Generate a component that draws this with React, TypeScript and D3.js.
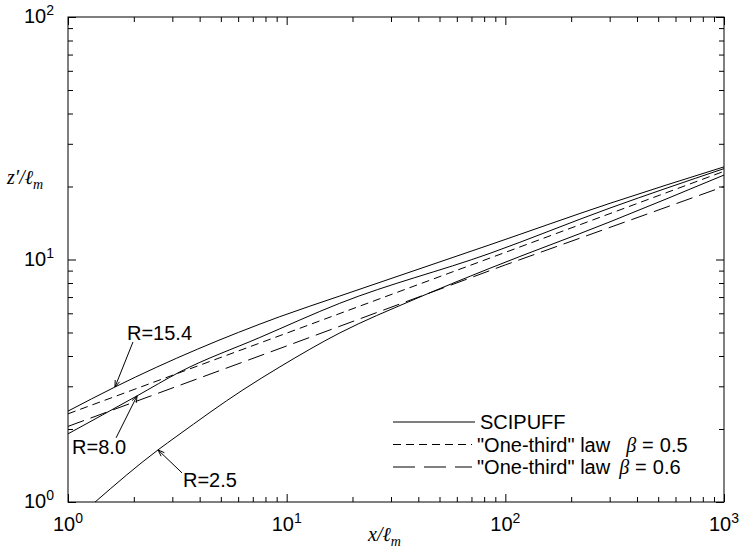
import React, { useRef, useEffect } from 'react';
import * as d3 from 'd3';

// SCIPUFF curves
const xR154 = [1, 1.64, 9.3, 17.5, 85, 301, 1000];
const yR154 = [2.37, 2.98, 5.81, 7.07, 11.5, 17.05, 24.1];
const xR80 = [1, 2.07, 3.25, 7.54, 17.5, 85, 301, 1000];
const yR80 = [1.91, 2.74, 3.44, 4.77, 6.6, 10.6, 16.3, 23.7];
const xR25 = [1.33, 2.58, 3.15, 6.31, 9.32, 17.5, 37.8, 85, 301, 1000];
const yR25 = [1.0, 1.64, 1.87, 2.9, 3.61, 4.98, 6.81, 9.2, 14.3, 22.3];

// "One-third" law lines
const xLaw = [1, 10, 100, 1000];
const yBeta05 = [2.31, 4.97, 10.7, 23.1];
const yBeta06 = [2.05, 4.4, 9.5, 20.0];

const xMajor = [1, 10, 100, 1000];
const yMajor = [1, 10, 100];
const xLabels = ['0', '1', '2', '3'];
const yLabels = ['0', '1', '2'];

const legendLabels = ['SCIPUFF', '"One-third" law', '"One-third" law'];
const legendBetas = ['', '0.5', '0.6'];

const sans = "'Liberation Sans', Arial, Helvetica, sans-serif";
const serif = "'Liberation Serif', 'Times New Roman', serif";

const App = () => {
  const ref = useRef<SVGSVGElement>(null);

  useEffect(() => {
    if (!ref.current) return;
    const svg = d3.select(ref.current);
    svg.selectAll('*').remove();

    const left = 68, right = 724, top = 17, bottom = 502;

    const x = d3.scaleLog().domain([1, 1000]).range([left, right]);
    const y = d3.scaleLog().domain([1, 100]).range([bottom, top]);

    const minorOf = (majors: number[]) =>
      majors.slice(0, -1).flatMap(m => d3.range(2, 10).map(k => k * m));

    // ticks, all pointing inward
    const tickAxis = (axis: any, pos: string, values: number[], size: number) => {
      const g = svg.append('g')
        .attr('transform', pos)
        .call(axis.tickValues(values).tickSize(-size).tickFormat(() => ''));
      g.select('.domain').remove();
      g.selectAll('line').attr('stroke', '#000').attr('stroke-width', 1);
    };
    tickAxis(d3.axisBottom(x), `translate(0,${bottom})`, xMajor, 8);
    tickAxis(d3.axisBottom(x), `translate(0,${bottom})`, minorOf(xMajor), 5);
    tickAxis(d3.axisTop(x), `translate(0,${top})`, xMajor, 8);
    tickAxis(d3.axisTop(x), `translate(0,${top})`, minorOf(xMajor), 5);
    tickAxis(d3.axisLeft(y), `translate(${left},0)`, yMajor, 8);
    tickAxis(d3.axisLeft(y), `translate(${left},0)`, minorOf(yMajor), 5);
    tickAxis(d3.axisRight(y), `translate(${right},0)`, yMajor, 8);
    tickAxis(d3.axisRight(y), `translate(${right},0)`, minorOf(yMajor), 5);

    svg.append('rect')
      .attr('x', left).attr('y', top)
      .attr('width', right - left).attr('height', bottom - top)
      .attr('fill', 'none').attr('stroke', '#000').attr('stroke-width', 1);

    // tick labels with superscript exponents
    xMajor.forEach((v, i) => {
      const t = svg.append('text')
        .attr('x', x(v)).attr('y', bottom + 29)
        .attr('text-anchor', 'middle')
        .attr('font-family', sans).attr('font-size', 20);
      t.append('tspan').text('10');
      t.append('tspan').attr('font-size', 14).attr('dy', -8).text(xLabels[i]);
    });
    yMajor.forEach((v, i) => {
      const t = svg.append('text')
        .attr('x', 54).attr('y', y(v) + 6)
        .attr('text-anchor', 'end')
        .attr('font-family', sans).attr('font-size', 20);
      t.append('tspan').text('10');
      t.append('tspan').attr('font-size', 14).attr('dy', -8).text(yLabels[i]);
    });

    // axis titles
    const xt = svg.append('text')
      .attr('x', 368).attr('y', 541)
      .attr('font-family', serif).attr('font-style', 'italic').attr('font-size', 20);
    xt.append('tspan').text('x/\u2113');
    xt.append('tspan').attr('font-size', 14).attr('dy', 5).text('m');

    const yt = svg.append('text')
      .attr('x', 7).attr('y', 184)
      .attr('font-family', serif).attr('font-style', 'italic').attr('font-size', 20);
    yt.append('tspan').text('z\u2032/\u2113');
    yt.append('tspan').attr('font-size', 14).attr('dy', 5).text('m');

    // curves
    const smooth = d3.line<[number, number]>()
      .x(d => x(d[0]))
      .y(d => y(d[1]))
      .curve(d3.curveMonotoneX);
    const straight = d3.line<[number, number]>()
      .x(d => x(d[0]))
      .y(d => y(d[1]));
    const zip = (xs: number[], ys: number[]) => xs.map((v, i) => [v, ys[i]] as [number, number]);

    const series = [
      { pts: zip(xR154, yR154), dash: null, gen: smooth },
      { pts: zip(xR80, yR80), dash: null, gen: smooth },
      { pts: zip(xR25, yR25), dash: null, gen: smooth },
      { pts: zip(xLaw, yBeta05), dash: '8,5', gen: straight },
      { pts: zip(xLaw, yBeta06), dash: '17,7', gen: straight },
    ];
    svg.append('g')
      .selectAll('path')
      .data(series)
      .join('path')
      .attr('d', d => d.gen(d.pts))
      .attr('fill', 'none')
      .attr('stroke', '#000')
      .attr('stroke-width', 1)
      .attr('stroke-dasharray', d => d.dash);

    // R annotations with arrows
    const notes = [
      { label: 'R=15.4', tip: [xR154[1], yR154[1]], tail: [18, -45], text: [12, -47] },
      { label: 'R=8.0', tip: [xR80[1], yR80[1]], tail: [-21, 42], text: [-65, 58] },
      { label: 'R=2.5', tip: [xR25[1], yR25[1]], tail: [24, 23], text: [25, 37] },
    ];
    notes.forEach(n => {
      const tx = x(n.tip[0]), ty = y(n.tip[1]);
      const sx = tx + n.tail[0], sy = ty + n.tail[1];
      const ang = Math.atan2(sy - ty, sx - tx);
      const g = svg.append('g').attr('stroke', '#000').attr('stroke-width', 1).attr('fill', 'none');
      g.append('line').attr('x1', sx).attr('y1', sy).attr('x2', tx).attr('y2', ty);
      [-0.35, 0.35].forEach(a => {
        g.append('line')
          .attr('x1', tx).attr('y1', ty)
          .attr('x2', tx + 7 * Math.cos(ang + a))
          .attr('y2', ty + 7 * Math.sin(ang + a));
      });
      svg.append('text')
        .attr('x', tx + n.text[0]).attr('y', ty + n.text[1])
        .attr('font-family', sans).attr('font-size', 20)
        .text(n.label);
    });

    // legend
    const rowsY = [422, 444.5, 467];
    const dashes = [null, '8,5', '22,9'];
    legendLabels.forEach((lab, i) => {
      svg.append('line')
        .attr('x1', 393).attr('x2', i === 0 ? 475 : 472)
        .attr('y1', rowsY[i]).attr('y2', rowsY[i])
        .attr('stroke', '#000').attr('stroke-width', 1)
        .attr('stroke-dasharray', dashes[i]);
      const t = svg.append('text')
        .attr('x', i === 0 ? 480 : 477).attr('y', rowsY[i] + 7)
        .attr('font-family', sans).attr('font-size', 20);
      t.append('tspan').text(lab);
      if (legendBetas[i]) {
        t.append('tspan').attr('dx', i === 1 ? 16 : 9)
          .attr('font-family', serif).attr('font-style', 'italic').text('\u03b2');
        t.append('tspan').attr('dx', 6).text('=');
        t.append('tspan').attr('dx', 6).text(legendBetas[i]);
      }
    });
  }, []);

  return (
    <svg ref={ref} width={739} height={553}
      style={{ position: 'absolute', left: 0, top: 0, background: '#fff' }} />
  );
};

export default App;
